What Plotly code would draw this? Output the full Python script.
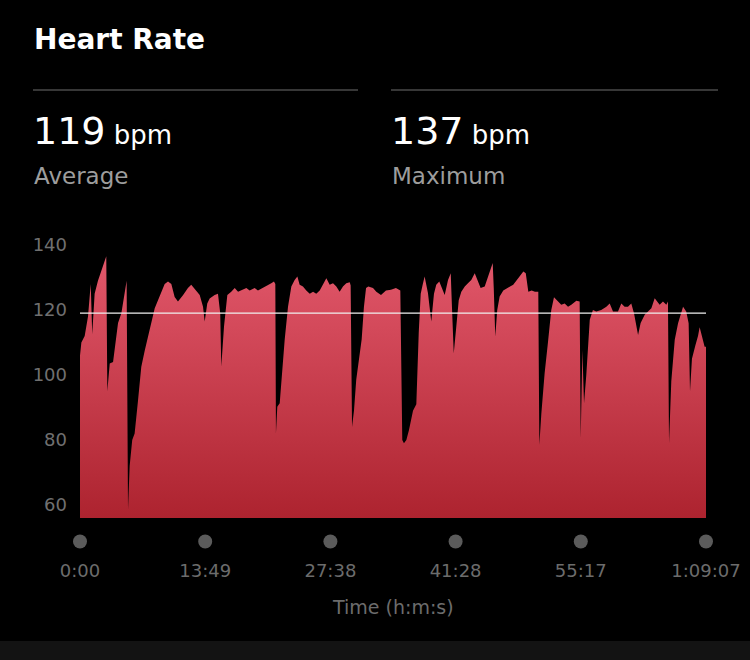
import plotly.graph_objects as go

# ---- data ----
TIME_S = [0, 9, 31, 53, 71, 81, 97, 119, 141, 164, 174, 181, 197, 219, 234, 252, 274, 296, 309,
          318, 329, 346, 362, 384, 406, 429, 450, 472, 495, 517, 539, 561, 583, 605, 627, 649,
          682, 715, 737, 770, 793, 815, 826, 843, 859, 892, 914, 929, 936, 954, 976, 1002, 1025,
          1047, 1069, 1102, 1124, 1157, 1179, 1201, 1224, 1245, 1267, 1285, 1294, 1298, 1307,
          1323, 1334, 1356, 1378, 1400, 1422, 1440, 1455, 1477, 1499, 1522, 1544, 1565, 1588,
          1610, 1632, 1654, 1676, 1698, 1720, 1742, 1764, 1787, 1793, 1802, 1815, 1830, 1844,
          1866, 1881, 1895, 1910, 1941, 1963, 1994, 2027, 2060, 2093, 2122, 2135, 2146, 2162,
          2179, 2206, 2228, 2244, 2257, 2270, 2283, 2305, 2327, 2345, 2360, 2380, 2393, 2416,
          2438, 2456, 2464, 2476, 2493, 2509, 2526, 2549, 2570, 2592, 2615, 2632, 2654, 2681,
          2703, 2721, 2734, 2741, 2751, 2764, 2780, 2804, 2827, 2849, 2870, 2893, 2915, 2937,
          2953, 2970, 2992, 3014, 3036, 3043, 3056, 3078, 3100, 3122, 3140, 3167, 3188, 3211,
          3233, 3255, 3288, 3310, 3317, 3328, 3339, 3354, 3377, 3398, 3420, 3453, 3487, 3509,
          3531, 3553, 3564, 3586, 3608, 3630, 3652, 3670, 3685, 3697, 3714, 3741, 3763, 3785,
          3807, 3824, 3840, 3862, 3884, 3895, 3902, 3917, 3940, 3962, 3983, 3995, 4016, 4032,
          4041, 4054, 4076, 4094, 4105, 4121, 4138, 4147]
HEART_RATE = [106, 110, 112, 118, 128, 112.5, 125, 129, 132, 135, 136.5, 95, 103.5, 104, 109, 116,
              119, 125, 129, 58.5, 72, 80, 82, 92, 102.5, 107.5, 112, 116, 120.5, 123, 126, 128,
              128.7, 128, 124, 122.6, 124.5, 126.7, 127.7, 126, 124.6, 121, 116.4, 122, 123.5,
              124.6, 125, 119, 102.6, 114.9, 124.6, 125.6, 126.7, 125.6, 126, 126.7, 126, 126.7,
              126, 126.5, 127.2, 127.5, 128.2, 128.7, 128, 82, 90.2, 91.3, 98.5, 110.8, 121,
              127.2, 129.2, 130.3, 127.7, 127.2, 126, 125, 125.6, 125, 126, 127.7, 129.7, 127.7,
              128.2, 127.2, 125.6, 127.2, 128.2, 128.5, 127.5, 84, 89, 98.5, 104, 111, 121,
              126.7, 127.2, 126.7, 125.6, 124.6, 126, 126.2, 126.7, 126, 80, 79, 80, 83, 89, 91,
              113, 125, 127.7, 130.3, 125.2, 116.4, 125, 127.7, 128.7, 127.2, 124.6, 129.2,
              131.3, 121, 106.7, 115, 123, 125.6, 127.2, 128.2, 129.2, 131.3, 129.2, 126.7,
              127.2, 130, 132.3, 134.4, 126.7, 111.8, 120, 124.1, 126, 126.5, 127.2, 127.7, 129,
              130.3, 131.8, 131.3, 125.6, 126, 125.6, 125.6, 78.5, 88, 100.5, 110, 120, 123.9,
              122.6, 121.6, 122, 121, 121.6, 122.8, 122.6, 80.5, 107.7, 91.3, 100, 117, 120,
              119.5, 120, 121, 122, 119.5, 119.5, 119.5, 122, 121, 121, 122, 119, 115, 112.3,
              116, 118.5, 119.5, 120.5, 123.6, 122.6, 121.6, 122.6, 121.6, 122.6, 79, 98, 110.8,
              115.9, 119.5, 121, 119.5, 115.9, 94.9, 105, 109, 112, 114.7, 112, 108.7, 108.7]
AVERAGE_BPM = 119
MAXIMUM_BPM = 137
X_TICK_VALS = [0, 829.4, 1658.8, 2488.2, 3317.6, 4147]
X_TICK_TEXT = ["0:00", "13:49", "27:38", "41:28", "55:17", "1:09:07"]
Y_TICK_VALS = [60, 80, 100, 120, 140]

# ---- layout geometry ----
W, H = 750, 660
L, R, T, B = 80, 44, 240, 142
Y_RANGE = [56, 141.5]
X_RANGE = [0, 4147]
PLOT_H = H - T - B
PLOT_W = W - L - R
FONT = "DejaVu Sans"


def py(pix):  # pixel y -> paper y
    return (H - B - pix) / PLOT_H


def px(pix):  # pixel x -> paper x
    return (pix - L) / PLOT_W


fig = go.Figure()

fig.add_trace(go.Scatter(
    x=TIME_S, y=HEART_RATE, mode="lines", fill="tozeroy",
    line=dict(width=0, color="#e0566a"),
    fillgradient=dict(type="vertical", start=56, stop=137,
                      colorscale=[[0, "#ad232f"], [1, "#e2586b"]]),
    hoverinfo="skip", showlegend=False,
))

fig.add_trace(go.Scatter(
    x=[X_RANGE[0], X_RANGE[1]], y=[AVERAGE_BPM, AVERAGE_BPM], mode="lines",
    line=dict(width=1.3, color="#f0f0f0"), hoverinfo="skip", showlegend=False,
))

shapes = [
    dict(type="rect", xref="paper", yref="paper", x0=-0.3, x1=1.3,
         y0=py(H + 20), y1=py(641), fillcolor="#131313", line=dict(width=0), layer="below"),
    dict(type="line", xref="paper", yref="paper", x0=px(33), x1=px(358),
         y0=py(90), y1=py(90), line=dict(color="#4a4a4a", width=1.5)),
    dict(type="line", xref="paper", yref="paper", x0=px(391), x1=px(718),
         y0=py(90), y1=py(90), line=dict(color="#4a4a4a", width=1.5)),
]
# tick dots below the axis (paper-referenced so the end dots are not clipped)
for tv in X_TICK_VALS:
    frac = (tv - X_RANGE[0]) / (X_RANGE[1] - X_RANGE[0])
    shapes.append(dict(type="circle", xref="paper", yref="paper",
                       xsizemode="pixel", ysizemode="pixel",
                       xanchor=frac, yanchor=py(541.5),
                       x0=-7, x1=7, y0=-7, y1=7,
                       fillcolor="#5b5b5b", line=dict(width=0)))

annotations = [
    dict(text="<b>Heart Rate</b>", x=px(32), y=py(39), xref="paper", yref="paper",
         xanchor="left", yanchor="middle", showarrow=False,
         font=dict(family=FONT, size=28, color="#ffffff")),
    dict(text=f"{AVERAGE_BPM}<span style='font-size:26px'> bpm</span>", x=px(31), y=py(131),
         xref="paper", yref="paper", xanchor="left", yanchor="middle", showarrow=False,
         font=dict(family=FONT, size=38, color="#ffffff")),
    dict(text=f"{MAXIMUM_BPM}<span style='font-size:26px'> bpm</span>", x=px(389), y=py(131),
         xref="paper", yref="paper", xanchor="left", yanchor="middle", showarrow=False,
         font=dict(family=FONT, size=38, color="#ffffff")),
    dict(text="Average", x=px(32), y=py(176), xref="paper", yref="paper",
         xanchor="left", yanchor="middle", showarrow=False,
         font=dict(family=FONT, size=23, color="#9d9d9d")),
    dict(text="Maximum", x=px(390), y=py(176), xref="paper", yref="paper",
         xanchor="left", yanchor="middle", showarrow=False,
         font=dict(family=FONT, size=23, color="#9d9d9d")),
    dict(text="Time (h:m:s)", x=0.5, y=py(607), xref="paper", yref="paper",
         xanchor="center", yanchor="middle", showarrow=False,
         font=dict(family=FONT, size=19, color="#6c6c6c")),
]

fig.update_layout(
    width=W, height=H,
    margin=dict(l=L, r=R, t=T, b=B, autoexpand=False),
    paper_bgcolor="#000000", plot_bgcolor="#000000",
    shapes=shapes, annotations=annotations,
    xaxis=dict(range=X_RANGE, showgrid=False, zeroline=False, showline=False,
               tickmode="array", tickvals=X_TICK_VALS, ticktext=X_TICK_TEXT,
               ticks="", ticklabelstandoff=40,
               tickfont=dict(family=FONT, size=18, color="#6c6c6c")),
    yaxis=dict(range=Y_RANGE, showgrid=False, zeroline=False, showline=False,
               tickmode="array", tickvals=Y_TICK_VALS, ticks="", ticklabelstandoff=12,
               tickfont=dict(family=FONT, size=18, color="#707070")),
)

fig.write_html("out.html",
               config={"displayModeBar": False},
               post_script="document.body.style.margin='0';"
                           "document.body.style.background='#000';")
